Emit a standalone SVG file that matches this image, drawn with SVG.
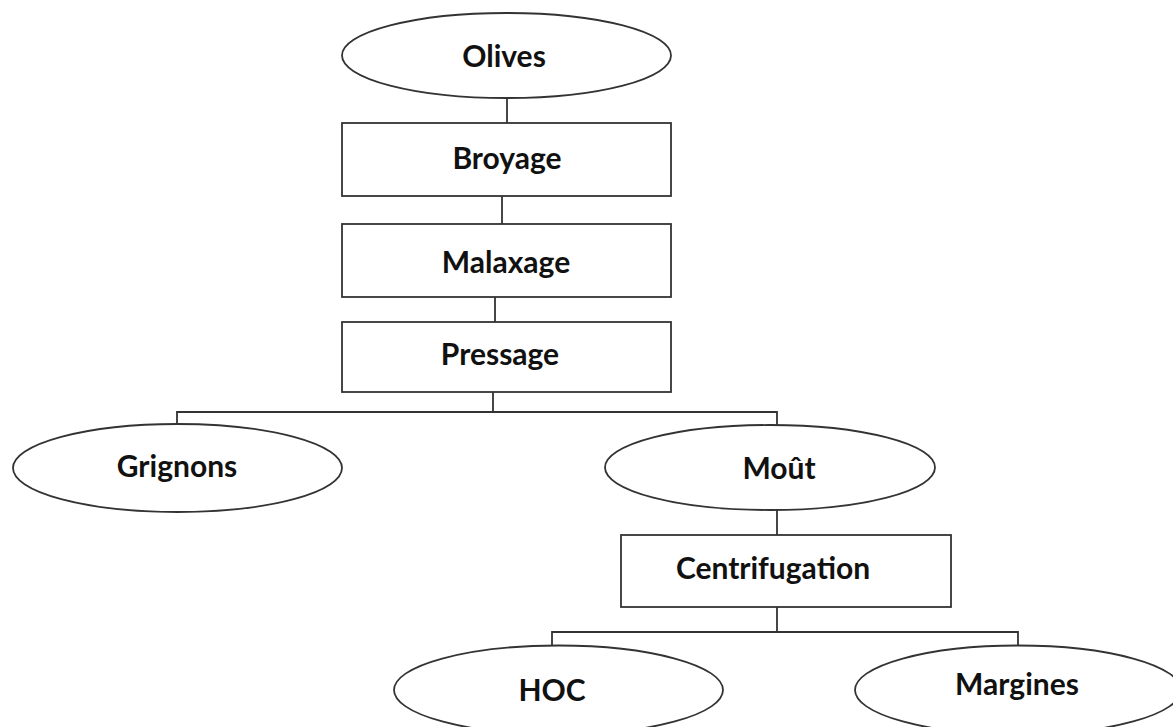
<svg xmlns="http://www.w3.org/2000/svg" width="1173" height="727" viewBox="0 0 1173 727">
<style>
.shape{fill:#fff;stroke:#333;stroke-width:1.8}
.conn{fill:none;stroke:#333;stroke-width:1.8}
.lbl{font-family:Lato,"Liberation Sans",sans-serif;font-weight:700;font-size:30px;fill:#111;text-anchor:middle;dominant-baseline:central}
</style>
<rect width="1173" height="727" fill="#fff"/>
<g id="connectors">
<path class="conn" d="M507 98V123"/>
<path class="conn" d="M502 196V224"/>
<path class="conn" d="M495 297V322"/>
<path class="conn" d="M493 392V412M177 424V412H777V425"/>
<path class="conn" d="M777 510V535"/>
<path class="conn" d="M777 607V632M552 646V632H1018V646"/>
</g>
<g id="olives"><ellipse class="shape" cx="506.5" cy="55.5" rx="164.5" ry="42.5"/><text class="lbl" x="504" y="55">Olives</text></g>
<g id="broyage"><rect class="shape" x="342" y="123" width="329" height="73"/><text class="lbl" x="507" y="157">Broyage</text></g>
<g id="malaxage"><rect class="shape" x="342" y="224" width="329" height="73"/><text class="lbl" x="506" y="261">Malaxage</text></g>
<g id="pressage"><rect class="shape" x="342" y="322" width="329" height="70"/><text class="lbl" x="500" y="353">Pressage</text></g>
<g id="grignons"><ellipse class="shape" cx="177.5" cy="468" rx="164.5" ry="44"/><text class="lbl" x="177" y="465">Grignons</text></g>
<g id="mout"><ellipse class="shape" cx="770" cy="467.5" rx="165" ry="42.5"/><text class="lbl" x="779" y="467">Moût</text></g>
<g id="centrifugation"><rect class="shape" x="621" y="535" width="330" height="72"/><text class="lbl" x="773" y="567">Centrifugation</text></g>
<g id="hoc"><ellipse class="shape" cx="558.5" cy="690" rx="164.5" ry="44.5"/><text class="lbl" x="552" y="689">HOC</text></g>
<g id="margines"><ellipse class="shape" cx="1018" cy="690" rx="163" ry="44.5"/><text class="lbl" x="1017" y="683">Margines</text></g>
</svg>
